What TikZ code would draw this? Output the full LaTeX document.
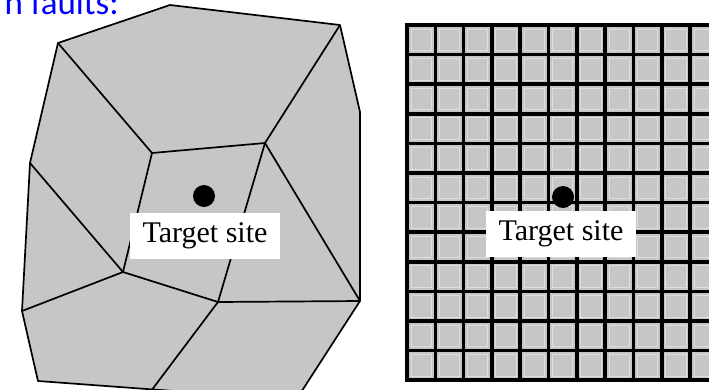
\documentclass[tikz,border=0pt]{standalone}
\usepackage{fontspec}
\setmainfont{Liberation Serif}
\newfontfamily\headfont{Carlito}

\definecolor{cellgray}{HTML}{C6C6C6}
\definecolor{rimgray}{HTML}{DEDEDE}

\begin{document}
\begin{tikzpicture}[
    x=1pt,
    y=-1pt,
    edge/.style={draw=black, line width=1.7pt, line join=round},
    cellline/.style={draw=black, line width=3.6pt, line cap=rect},
    site/.style={circle, fill=black, inner sep=0pt, minimum size=22pt},
    sitelabel/.style={fill=white, inner sep=0pt, minimum width=150pt,
        minimum height=46pt, font=\fontsize{30}{32}\selectfont}
]
\useasboundingbox (0,0) rectangle (709,389);
\clip (0,0) rectangle (709,389);

% parameters of the regular grid
\def\gx{407}    % left border
\def\gy{25}     % top border
\def\cw{28.3}   % cell width
\def\ch{29.6}   % cell height

% ---------------- Header (cut off) ----------------
\node[anchor=base east, text=blue, inner sep=0pt,
    font=\headfont\fontsize{35}{40}\selectfont] (head) at (119,14) {n faults:};

% ---------------- Left panel: irregular cells ----------------
\coordinate (p1) at (58,43);
\coordinate (p2) at (170,5);
\coordinate (p3) at (340,25);
\coordinate (p4) at (360,112);
\coordinate (p5) at (360,301);
\coordinate (p6) at (296,400);
\coordinate (p7) at (38,381);
\coordinate (p8) at (22,311);
\coordinate (p9) at (30,163);
\coordinate (qa) at (152,153);
\coordinate (qb) at (265,143);
\coordinate (qc) at (218,302);
\coordinate (qd) at (123,272);
\coordinate (qe) at (148,395);

\fill[cellgray] (p1) -- (p2) -- (p3) -- (p4) -- (p5) -- (p6) -- (p7)
    -- (p8) -- (p9) -- cycle;
\draw[edge] (p1) -- (p2) -- (p3) -- (p4) -- (p5) -- (p6) -- (p7)
    -- (p8) -- (p9) -- cycle;

% inner edges
\draw[edge] (p1) -- (qa) -- (qb) -- (p3);
\draw[edge] (qb) -- (p5);
\draw[edge] (qb) -- (qc);
\draw[edge] (qa) -- (qd);
\draw[edge] (p9) -- (qd) -- (p8);
\draw[edge] (qd) -- (qc) -- (p5);
\draw[edge] (qc) -- (qe);

\node[site] (dotL) at (204,196) {};
\node[sitelabel] (labL) at (205,236) {Target site};

% ---------------- Right panel: regular grid ----------------
\fill[cellgray] (\gx,\gy) rectangle (720,\gy+12*\ch);
\foreach \i in {0,...,10}{
    \foreach \j in {0,...,11}{
        \draw[rimgray, line width=1pt]
            (\gx+\i*\cw+4,\gy+\j*\ch+4) rectangle ++(\cw-8,\ch-8);
    }
}
\foreach \i in {0,...,11}{
    \draw[cellline] (\gx+\i*\cw,\gy) -- (\gx+\i*\cw,\gy+12*\ch);
}
\foreach \j in {0,...,12}{
    \draw[cellline] (\gx,\gy+\j*\ch) -- (720,\gy+\j*\ch);
}

\node[site] (dotR) at (563,197) {};
\node[sitelabel] (labR) at (561,233.5) {Target site};

\end{tikzpicture}
\end{document}
